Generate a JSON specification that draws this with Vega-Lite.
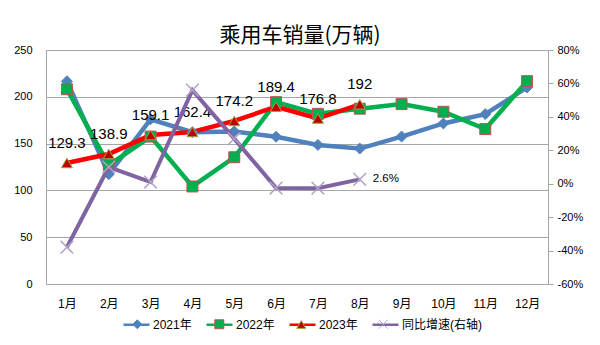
{
  "$schema": "https://vega.github.io/schema/vega-lite/v6.json",
  "width": 502,
  "height": 234,
  "autosize": {"type": "none"},
  "padding": {"left": 46, "top": 50, "right": 52, "bottom": 61},
  "background": "white",
  "title": {"text": "乘用车销量(万辆)", "fontSize": 21, "font": "Noto Sans CJK SC", "fontWeight": "normal", "color": "#000000", "anchor": "middle", "offset": 0, "dx": 3, "dy": 2},
  "config": {
    "view": {"stroke": null},
    "font": "Liberation Sans",
    "axis": {"labelFont": "Liberation Sans, Noto Sans CJK SC", "labelColor": "#000000", "labelFontSize": 11, "title": null}
  },
  "datasets": {
    "sales": [
      {"m": "1月", "s": "2021年", "v": 216.6}, {"m": "2月", "s": "2021年", "v": 117.3}, {"m": "3月", "s": "2021年", "v": 176.0}, {"m": "4月", "s": "2021年", "v": 162.2},
      {"m": "5月", "s": "2021年", "v": 163.0}, {"m": "6月", "s": "2021年", "v": 157.3}, {"m": "7月", "s": "2021年", "v": 148.6}, {"m": "8月", "s": "2021年", "v": 144.7},
      {"m": "9月", "s": "2021年", "v": 157.5}, {"m": "10月", "s": "2021年", "v": 171.5}, {"m": "11月", "s": "2021年", "v": 181.5}, {"m": "12月", "s": "2021年", "v": 210.0},
      {"m": "1月", "s": "2022年", "v": 208.1}, {"m": "2月", "s": "2022年", "v": 127.0}, {"m": "3月", "s": "2022年", "v": 157.5}, {"m": "4月", "s": "2022年", "v": 104.2},
      {"m": "5月", "s": "2022年", "v": 135.4}, {"m": "6月", "s": "2022年", "v": 194.3}, {"m": "7月", "s": "2022年", "v": 181.8}, {"m": "8月", "s": "2022年", "v": 187.3},
      {"m": "9月", "s": "2022年", "v": 192.2}, {"m": "10月", "s": "2022年", "v": 184.0}, {"m": "11月", "s": "2022年", "v": 165.5}, {"m": "12月", "s": "2022年", "v": 216.7},
      {"m": "1月", "s": "2023年", "v": 129.3}, {"m": "2月", "s": "2023年", "v": 138.9}, {"m": "3月", "s": "2023年", "v": 159.1}, {"m": "4月", "s": "2023年", "v": 162.4},
      {"m": "5月", "s": "2023年", "v": 174.2}, {"m": "6月", "s": "2023年", "v": 189.4}, {"m": "7月", "s": "2023年", "v": 176.8}, {"m": "8月", "s": "2023年", "v": 192}
    ],
    "growth": [
      {"m": "1月", "s": "同比增速(右轴)", "v": -0.38}, {"m": "2月", "s": "同比增速(右轴)", "v": 0.10}, {"m": "3月", "s": "同比增速(右轴)", "v": 0.01}, {"m": "4月", "s": "同比增速(右轴)", "v": 0.56},
      {"m": "5月", "s": "同比增速(右轴)", "v": 0.27}, {"m": "6月", "s": "同比增速(右轴)", "v": -0.026}, {"m": "7月", "s": "同比增速(右轴)", "v": -0.027}, {"m": "8月", "s": "同比增速(右轴)", "v": 0.026}
    ]
  },
  "layer": [
    {
      "data": {"name": "sales"},
      "encoding": {
        "x": {"field": "m", "type": "ordinal", "sort": ["1月","2月","3月","4月","5月","6月","7月","8月","9月","10月","11月","12月"],
              "scale": {"type": "point", "padding": 0.5, "domain": ["1月","2月","3月","4月","5月","6月","7月","8月","9月","10月","11月","12月"]},
              "axis": {"labelAngle": 0, "ticks": false, "labelPadding": 14, "labelFontSize": 12, "domainColor": "#a6a6a6", "grid": false}},
        "y": {"field": "v", "type": "quantitative", "scale": {"domain": [0, 250]},
              "axis": {"orient": "left", "values": [0, 50, 100, 150, 200, 250], "ticks": false, "labelPadding": 14, "domainColor": "#a6a6a6", "gridColor": "#a6a6a6", "grid": true}}
      },
      "layer": [
        {
          "mark": {"type": "line", "strokeWidth": 4.5},
          "encoding": {
            "color": {"field": "s", "type": "nominal",
              "scale": {"domain": ["2021年", "2022年", "2023年", "同比增速(右轴)"], "range": ["#4F81BD", "#00B050", "#FF0000", "#8064A2"]},
              "legend": {"orient": "none", "legendX": 76, "legendY": 260, "direction": "horizontal", "title": null, "symbolType": "stroke", "symbolSize": 676, "symbolStrokeWidth": 2.5, "labelFontSize": 12, "labelFont": "Liberation Sans, Noto Sans CJK SC", "labelColor": "#000000", "labelOffset": 2, "columnPadding": 9}}
          }
        },
        {
          "mark": {"type": "point", "filled": true, "size": 120, "strokeWidth": 1, "opacity": 1},
          "encoding": {
            "shape": {"field": "s", "type": "nominal", "scale": {"range": ["diamond", "square", "triangle-up", "M-1,-1L1,1M-1,1L1,-1"]},
              "legend": {"orient": "none", "legendX": 85.3, "legendY": 268, "direction": "horizontal", "title": null, "symbolSize": 80, "symbolStrokeWidth": 1, "labelFontSize": 12, "labelFont": "Liberation Sans, Noto Sans CJK SC", "labelOpacity": 0, "labelOffset": 20.56, "columnPadding": 9}},
            "fill": {"field": "s", "type": "nominal", "scale": {"range": ["#4F81BD", "#00B050", "#C00000", "#B3A2C7"]}},
            "stroke": {"field": "s", "type": "nominal", "scale": {"range": ["#4F81BD", "#C0504D", "#A0A040", "#B3A2C7"]}}
          }
        },
        {
          "transform": [{"filter": "datum.s === '2023年'"}],
          "mark": {"type": "text", "dy": -20, "fontSize": 15, "font": "Liberation Sans", "color": "#000000"},
          "encoding": {"text": {"field": "v", "type": "quantitative", "format": ".4~g"}}
        }
      ]
    },
    {
      "data": {"name": "growth"},
      "encoding": {
        "x": {"field": "m", "type": "ordinal", "sort": ["1月","2月","3月","4月","5月","6月","7月","8月","9月","10月","11月","12月"],
              "scale": {"type": "point", "padding": 0.5, "domain": ["1月","2月","3月","4月","5月","6月","7月","8月","9月","10月","11月","12月"]},
              "axis": {"labelAngle": 0, "ticks": false, "labelPadding": 14, "labelFontSize": 12, "domainColor": "#a6a6a6", "grid": false}},
        "y": {"field": "v", "type": "quantitative", "scale": {"domain": [-0.6, 0.8]},
              "axis": {"orient": "right", "labelExpr": "replace(format(datum.value, '.0%'), '−', '-')", "values": [-0.6, -0.4, -0.2, 0, 0.2, 0.4, 0.6, 0.8], "grid": false, "tickSize": 5, "tickColor": "#a6a6a6", "domainColor": "#a6a6a6", "labelPadding": 4}}
      },
      "layer": [
        {
          "mark": {"type": "line", "strokeWidth": 4},
          "encoding": {"color": {"field": "s", "type": "nominal",
              "scale": {"domain": ["2021年", "2022年", "2023年", "同比增速(右轴)"], "range": ["#4F81BD", "#00B050", "#FF0000", "#8064A2"]},
              "legend": {"orient": "none", "legendX": 76, "legendY": 260, "direction": "horizontal", "title": null, "symbolType": "stroke", "symbolSize": 676, "symbolStrokeWidth": 2.5, "labelFontSize": 12, "labelFont": "Liberation Sans, Noto Sans CJK SC", "labelColor": "#000000", "labelOffset": 2, "columnPadding": 9}}}
        },
        {
          "mark": {"type": "point", "filled": true, "size": 160, "strokeWidth": 1.5, "opacity": 1},
          "encoding": {
            "shape": {"field": "s", "type": "nominal"},
            "fill": {"field": "s", "type": "nominal"},
            "stroke": {"field": "s", "type": "nominal"}
          }
        },
        {
          "transform": [{"filter": "datum.m === '8月'"}],
          "mark": {"type": "text", "align": "left", "dx": 13, "fontSize": 11.5, "font": "Liberation Sans", "color": "#000000"},
          "encoding": {"text": {"field": "v", "type": "quantitative", "format": ".1%"}}
        }
      ]
    }
  ],
  "resolve": {"scale": {"y": "independent"}, "axis": {"y": "independent"}}
}
